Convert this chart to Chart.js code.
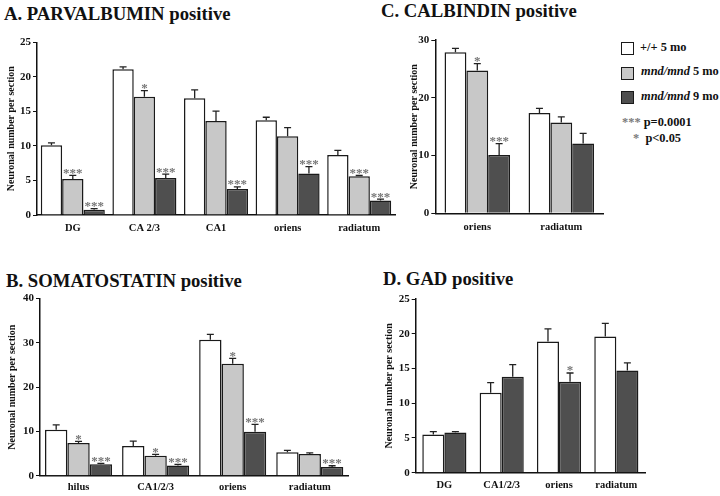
<!DOCTYPE html>
<html>
<head>
<meta charset="utf-8">
<script src="https://cdn.jsdelivr.net/npm/chart.js@4.4.1/dist/chart.umd.min.js"></script>
<style>
  body { margin: 0; background: #fff; }
  #fig { position: relative; width: 720px; height: 496px; overflow: hidden;
         font-family: "Liberation Serif", "Times New Roman", serif; color: #111; }
  #fig canvas { position: absolute; }
  .ttl { position: absolute; font-weight: bold; font-size: 18.7px; line-height: 19px; white-space: nowrap; }
  .box { position: absolute; width: 11px; height: 11px; border: 1.5px solid #1a1a1a; }
  .lt { position: absolute; font-weight: bold; font-size: 12.4px; line-height: 13px; white-space: nowrap; }
  .st { color: #7a7a7a; }
</style>
</head>
<body>
<div id="fig">
  <div class="ttl" style="left:4px;top:4px">A. PARVALBUMIN positive</div>
  <div class="ttl" style="left:381px;top:1px">C. CALBINDIN positive</div>
  <div class="ttl" style="left:6px;top:271px">B. SOMATOSTATIN positive</div>
  <div class="ttl" style="left:383px;top:269px">D. GAD positive</div>

  <canvas id="chart-a" width="395" height="210" style="left:5px;top:30px"></canvas>
  <canvas id="chart-b" width="350" height="206" style="left:6px;top:290px"></canvas>
  <canvas id="chart-c" width="200" height="210" style="left:408px;top:30px"></canvas>
  <canvas id="chart-d" width="270" height="206" style="left:383px;top:290px"></canvas>

  <div class="box" style="left:621px;top:42px;background:#fff"></div>
  <div class="lt" style="left:640px;top:41px">+/+ 5 mo</div>
  <div class="box" style="left:621px;top:67px;background:#c8c8c8"></div>
  <div class="lt" style="left:641px;top:65px"><i>mnd/mnd</i> 5 mo</div>
  <div class="box" style="left:621px;top:91px;background:#4f4f4f"></div>
  <div class="lt" style="left:641px;top:90px"><i>mnd/mnd</i> 9 mo</div>
  <div class="lt" style="left:622px;top:116px"><span class="st">***</span> p=0.0001</div>
  <div class="lt" style="left:633px;top:132px"><span class="st">*</span>&nbsp; p&lt;0.05</div>
</div>

<script>
// ── DATA ─────────────────────────────────────────

const SERIES = ['+/+ 5 mo', 'mnd/mnd 5 mo', 'mnd/mnd 9 mo'];

// A. parvalbumin
const parvCats = ['DG', 'CA 2/3', 'CA1', 'oriens', 'radiatum'];
const parvWt = [10.1, 21.1, 16.9, 13.7, 8.7];
const parvWtErr = [0.35, 0.35, 1.2, 0.45, 0.65];
const parvMnd5 = [5.2, 17.1, 13.6, 11.4, 5.6];
const parvMnd5Err = [0.55, 0.9, 1.45, 1.25, 0.12];
const parvMnd9 = [0.75, 5.35, 3.76, 6.0, 2.1];
const parvMnd9Err = [0.18, 0.58, 0.3, 1.0, 0.2];
const parvStars5 = ['***', '*', '', '', '***'];
const parvStars9 = ['***', '***', '***', '***', '***'];

// B. somatostatin
const somaCats = ['hilus', 'CA1/2/3', 'oriens', 'radiatum'];
const somaWt = [10.4, 6.7, 30.7, 5.3];
const somaWtErr = [1.1, 1.1, 1.2, 0.4];
const somaMnd5 = [7.4, 4.5, 25.3, 4.9];
const somaMnd5Err = [0.35, 0.3, 1.2, 0.25];
const somaMnd9 = [2.6, 2.3, 9.9, 1.95];
const somaMnd9Err = [0.2, 0.25, 1.7, 0.3];
const somaStars5 = ['*', '*', '*', ''];
const somaStars9 = ['***', '***', '***', '***'];

// C. calbindin
const calbCats = ['oriens', 'radiatum'];
const calbWt = [27.9, 17.35];
const calbWtErr = [0.65, 0.8];
const calbMnd5 = [24.7, 15.7];
const calbMnd5Err = [1.2, 1.0];
const calbMnd9 = [10.1, 12.1];
const calbMnd9Err = [1.95, 1.75];
const calbStars5 = ['*', ''];
const calbStars9 = ['***', ''];

// D. GAD (two groups only)
const gadCats = ['DG', 'CA1/2/3', 'oriens', 'radiatum'];
const gadWt = [5.5, 11.5, 18.9, 19.6];
const gadWtErr = [0.4, 1.45, 1.8, 1.9];
const gadMnd = [5.8, 13.8, 13.1, 14.7];
const gadMndErr = [0.1, 1.75, 1.25, 1.1];
const gadStars = ['', '', '*', ''];

// ── STYLE ────────────────────────────────────────

const SERIF = '"Liberation Serif", "Times New Roman", serif';
const INK = '#111';
const FILLS = ['#ffffff', '#c8c8c8', '#4f4f4f'];

// ── ERROR BARS + SIGNIFICANCE STARS ──────────────

const errorBars = {
  id: 'errorBars',
  afterDatasetsDraw(chart) {
    const { ctx } = chart;
    const y = chart.scales.y;
    ctx.save();
    chart.data.datasets.forEach((ds, i) => {
      const meta = chart.getDatasetMeta(i);
      meta.data.forEach((bar, j) => {
        const top = y.getPixelForValue(ds.data[j] + ds.errors[j]);
        ctx.strokeStyle = '#222';
        ctx.lineWidth = 1.3;
        ctx.beginPath();
        ctx.moveTo(bar.x, bar.y);
        ctx.lineTo(bar.x, top);
        ctx.moveTo(bar.x - 3.5, top);
        ctx.lineTo(bar.x + 3.5, top);
        ctx.stroke();
        const s = ds.stars && ds.stars[j];
        if (s) {
          ctx.fillStyle = '#777';
          ctx.font = 'bold 13px ' + SERIF;
          ctx.textAlign = 'center';
          ctx.textBaseline = 'alphabetic';
          ctx.fillText(s, bar.x, top + 1.5);
        }
      });
    });
    ctx.restore();
  }
};

// ── PANEL BUILDER ────────────────────────────────

function series(label, data, errors, stars, fill) {
  return {
    label, data, errors, stars,
    backgroundColor: fill,
    borderColor: '#1a1a1a',
    borderWidth: 1.5
  };
}

function drawPanel(id, cats, datasets, p) {
  const ctx = document.getElementById(id).getContext('2d');
  return new Chart(ctx, {
    type: 'bar',
    data: { labels: cats, datasets },
    options: {
      responsive: false,
      animation: false,
      categoryPercentage: p.cat,
      barPercentage: 1,
      layout: { padding: { left: 0, top: p.pt, right: p.pr, bottom: 0 } },
      plugins: { legend: { display: false }, tooltip: { enabled: false } },
      scales: {
        x: {
          grid: { display: true, drawOnChartArea: false, drawTicks: false },
          border: { color: INK, width: 1.5 },
          ticks: { color: INK, font: { family: SERIF, size: 10.5, weight: 'bold' }, padding: p.xpad, maxRotation: 0 },
          afterFit: s => { s.height = p.xh; }
        },
        y: {
          min: 0,
          max: p.max,
          ticks: { stepSize: p.step, color: INK, font: { family: SERIF, size: 11, weight: 'bold' }, padding: 2 },
          grid: { drawOnChartArea: false, drawTicks: true, tickLength: 4, color: INK, lineWidth: 1 },
          border: { color: INK, width: 1.5 },
          title: {
            display: true,
            text: 'Neuronal number per section',
            color: INK,
            font: { family: SERIF, size: 10, weight: 'bold' },
            padding: 0
          },
          afterFit: s => { s.width = p.yw; }
        }
      }
    },
    plugins: [errorBars]
  });
}

// ── RENDER ───────────────────────────────────────

drawPanel('chart-a', parvCats, [
  series(SERIES[0], parvWt, parvWtErr, null, FILLS[0]),
  series(SERIES[1], parvMnd5, parvMnd5Err, parvStars5, FILLS[1]),
  series(SERIES[2], parvMnd9, parvMnd9Err, parvStars9, FILLS[2])
], { max: 25, step: 5, cat: 0.894, yw: 32, xh: 25, pt: 12.3, pr: 5, xpad: 7 });

drawPanel('chart-b', somaCats, [
  series(SERIES[0], somaWt, somaWtErr, null, FILLS[0]),
  series(SERIES[1], somaMnd5, somaMnd5Err, somaStars5, FILLS[1]),
  series(SERIES[2], somaMnd9, somaMnd9Err, somaStars9, FILLS[2])
], { max: 40, step: 10, cat: 0.87, yw: 34, xh: 20.3, pt: 7.3, pr: 7.7, xpad: 5 });

drawPanel('chart-c', calbCats, [
  series(SERIES[0], calbWt, calbWtErr, null, FILLS[0]),
  series(SERIES[1], calbMnd5, calbMnd5Err, calbStars5, FILLS[1]),
  series(SERIES[2], calbMnd9, calbMnd9Err, calbStars9, FILLS[2])
], { max: 30, step: 10, cat: 0.78, yw: 27.3, xh: 26.7, pt: 10, pr: 4.7, xpad: 8 });

drawPanel('chart-d', gadCats, [
  series(SERIES[0], gadWt, gadWtErr, null, FILLS[0]),
  series('mnd/mnd', gadMnd, gadMndErr, gadStars, FILLS[2])
], { max: 25, step: 5, cat: 0.77, yw: 32.7, xh: 23.3, pt: 9, pr: 8, xpad: 6 });
</script>
</body>
</html>
